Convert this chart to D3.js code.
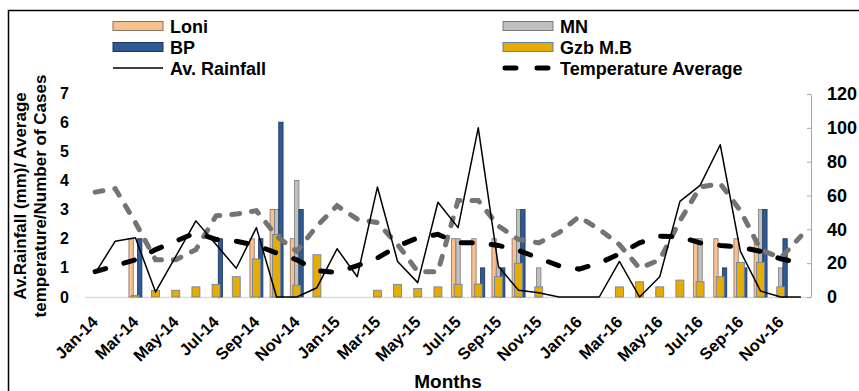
<!DOCTYPE html>
<html>
<head>
<meta charset="utf-8">
<script src="https://cdn.jsdelivr.net/npm/d3@7"></script>
<style>
  body { margin: 0; background: #fff; }
  svg { font-family: "Liberation Sans", Arial, sans-serif; font-weight: bold; }
</style>
</head>
<body>
<svg id="chart" width="859" height="391"></svg>
<script>
// months Jan-14 .. Dec-16
const months = ['Jan-14','Feb-14','Mar-14','Apr-14','May-14','Jun-14','Jul-14','Aug-14','Sep-14','Oct-14','Nov-14','Dec-14',
  'Jan-15','Feb-15','Mar-15','Apr-15','May-15','Jun-15','Jul-15','Aug-15','Sep-15','Oct-15','Nov-15','Dec-15',
  'Jan-16','Feb-16','Mar-16','Apr-16','May-16','Jun-16','Jul-16','Aug-16','Sep-16','Oct-16','Nov-16','Dec-16'];
const tickLabels = months.filter((d, i) => i % 2 === 0);

// cases (left axis)
const loni = [0,0,2,0,0,0,0,0,2,3,2,0, 0,0,0,0,0,0,2,2,2,2,0,0, 0,0,0,0,0,0,2,2,2,2,0,0];
const mn   = [0,0,0,0,0,0,0,0,0,3,4,0, 0,0,0,0,0,0,2,0,1,3,1,0, 0,0,0,0,0,0,2,0,0,3,1,0];
const bp   = [0,0,2,0,0,0,2,0,2,6,3,0, 0,0,0,0,0,0,0,1,1,3,0,0, 0,0,0,0,0,0,0,1,1,3,2,0];
// secondary axis series
const gzb  = [0,0,1,4,4,6,7.5,12,22.5,37,7,25, 0,0,4,7.5,5,6,7.5,7.7,12,20,6,0, 0,0,6,9,6,10,9,12,20.5,20.5,6,0];
const rainfall = [14,33,35,3,24,45,31,17,41,0,0,5.5, 28.5,12,65,21,8.5,56,41,100,18,4,2.5,0, 0,0,21,0,12,56.5,66,90,27,3.5,0,0];
const temperature = [15,18.5,22,28,33,38,34,33,30.5,26,22,15.5, 14.6,18.5,23,30,35,37,32,32,30.5,27.5,23,18.5, 16.5,20,25.5,32,36,35.5,32,30.5,29.5,27,22.5,20];
const grayLine = [62,64,44,22,22,28,48,49,51,36,27,42, 54,46,44,31,15,15,57,57,42,34,32,38, 47.5,40,31,17,22,45,65,67,51,28,23,36];

const leftTicks = [0,1,2,3,4,5,6,7];
const rightTicks = [0,20,40,60,80,100,120];

const svg = d3.select('#chart');
const margin = { left: 85, right: 811, top: 93, bottom: 297 };

// outer frame
svg.append('rect')
  .attr('x', 8.5).attr('y', 10.5).attr('width', 900).attr('height', 420)
  .attr('fill', 'none').attr('stroke', '#000').attr('stroke-width', 1.5);

const x = d3.scaleBand().domain(months).range([margin.left, margin.right]);
const xSub = d3.scaleBand().domain(['Loni','MN','BP']).range([0, x.bandwidth()]).paddingOuter(0.83);
const xSec = d3.scaleBand().domain(['Gzb']).range([0, x.bandwidth()]).paddingOuter(0.76);
const yL = d3.scaleLinear().domain([0, 7]).range([margin.bottom, margin.top]);
const yR = d3.scaleLinear().domain([0, 120]).range([margin.bottom, margin.top + 1]);

// baseline
svg.append('line')
  .attr('x1', margin.left).attr('x2', margin.right)
  .attr('y1', margin.bottom + 0.5).attr('y2', margin.bottom + 0.5)
  .attr('stroke', '#d9d9d9').attr('stroke-width', 1.5);

// left axis (labels only)
const gL = svg.append('g')
  .attr('transform', `translate(${margin.left},0)`)
  .call(d3.axisLeft(yL).tickValues(leftTicks).tickFormat(d3.format('d')).tickSize(0).tickPadding(16));
gL.select('.domain').remove();
gL.selectAll('text').style('font-size', '16px').attr('fill', '#000').style('font-family', 'inherit');

// right axis
const gR = svg.append('g')
  .attr('transform', `translate(${margin.right},0)`)
  .call(d3.axisRight(yR).tickValues(rightTicks).tickSizeInner(-4).tickSizeOuter(0).tickPadding(16));
gR.select('.domain').attr('stroke', '#a6a6a6');
gR.selectAll('line').attr('stroke', '#a6a6a6');
gR.selectAll('text').style('font-size', '18px').attr('fill', '#000').style('font-family', 'inherit');

// x axis labels
const gX = svg.append('g')
  .attr('transform', `translate(0,${margin.bottom})`)
  .call(d3.axisBottom(x).tickValues(tickLabels).tickSize(0));
gX.select('.domain').remove();
gX.selectAll('text')
  .attr('y', 0).attr('dy', 0)
  .attr('transform', 'translate(4,26) rotate(-45)')
  .style('text-anchor', 'end')
  .style('font-size', '16.5px').style('font-family', 'inherit')
  .attr('fill', '#000');

// primary bars
const barSeries = [
  { name: 'Loni', values: loni, fill: '#f9c090', stroke: '#8a7060' },
  { name: 'MN', values: mn, fill: '#c0c0c0', stroke: '#7a7a7a' },
  { name: 'BP', values: bp, fill: '#2f5a95', stroke: '#1c355a' }
];
barSeries.forEach(s => {
  svg.append('g').selectAll('rect')
    .data(s.values.map((v, i) => ({ m: months[i], v })).filter(d => d.v > 0))
    .enter().append('rect')
    .attr('x', d => x(d.m) + xSub(s.name))
    .attr('y', d => yL(d.v))
    .attr('width', xSub.bandwidth())
    .attr('height', d => yL(0) - yL(d.v))
    .attr('fill', s.fill)
    .attr('stroke', s.stroke)
    .attr('stroke-width', 0.8);
});

// secondary bars
svg.append('g').selectAll('rect')
  .data(gzb.map((v, i) => ({ m: months[i], v })).filter(d => d.v > 0))
  .enter().append('rect')
  .attr('x', d => x(d.m) + xSec('Gzb'))
  .attr('y', d => yR(d.v))
  .attr('width', xSec.bandwidth())
  .attr('height', d => yR(0) - yR(d.v))
  .attr('fill', '#e6ac00')
  .attr('stroke', '#5f7fb5')
  .attr('stroke-width', 0.8);

const cx = i => x(months[i]) + x.bandwidth() / 2;
const line = d3.line().x((d, i) => cx(i)).y(d => yR(d));

svg.append('path')
  .attr('d', line(grayLine))
  .attr('fill', 'none').attr('stroke', '#747474')
  .attr('stroke-width', 5).attr('stroke-linecap', 'round')
  .attr('stroke-dasharray', '8,12');

svg.append('path')
  .attr('d', line(rainfall))
  .attr('fill', 'none').attr('stroke', '#000')
  .attr('stroke-width', 1.5).attr('stroke-linejoin', 'round');

svg.append('path')
  .attr('d', line(temperature))
  .attr('fill', 'none').attr('stroke', '#000')
  .attr('stroke-width', 5).attr('stroke-linecap', 'round')
  .attr('stroke-dasharray', '11,19');

// legend
const legendItems = [
  { name: 'Loni', type: 'rect', fill: '#f9c090', stroke: '#8a7060', x: 113, y: 26 },
  { name: 'MN', type: 'rect', fill: '#c0c0c0', stroke: '#7a7a7a', x: 503, y: 26 },
  { name: 'BP', type: 'rect', fill: '#2f5a95', stroke: '#1c355a', x: 113, y: 47 },
  { name: 'Gzb M.B', type: 'rect', fill: '#e6ac00', stroke: '#5f7fb5', x: 503, y: 47 },
  { name: 'Av. Rainfall', type: 'line', x: 113, y: 68 },
  { name: 'Temperature Average', type: 'dash', x: 503, y: 68 }
];
const legend = svg.append('g').selectAll('g')
  .data(legendItems).enter().append('g')
  .attr('transform', d => `translate(${d.x},${d.y})`);
legend.filter(d => d.type === 'rect').append('rect')
  .attr('x', 0).attr('y', -4.5).attr('width', 50).attr('height', 9)
  .attr('fill', d => d.fill).attr('stroke', d => d.stroke).attr('stroke-width', 1);
legend.filter(d => d.type === 'line').append('line')
  .attr('x1', 0).attr('x2', 50).attr('y1', 0).attr('y2', 0)
  .attr('stroke', '#000').attr('stroke-width', 1.5);
legend.filter(d => d.type === 'dash').append('line')
  .attr('x1', 2).attr('x2', 48).attr('y1', 0).attr('y2', 0)
  .attr('stroke', '#000').attr('stroke-width', 5).attr('stroke-linecap', 'round')
  .attr('stroke-dasharray', '11,21');
legend.append('text')
  .attr('x', 57).attr('y', 6.5)
  .style('font-size', '18px')
  .text(d => d.name);

// axis titles
svg.append('text')
  .attr('x', 448).attr('y', 388)
  .attr('text-anchor', 'middle')
  .style('font-size', '19px')
  .text('Months');

const yTitle = svg.append('g').attr('transform', 'translate(0,196)');
yTitle.append('text')
  .attr('transform', 'translate(26,0) rotate(-90)')
  .attr('text-anchor', 'middle').style('font-size', '17px')
  .text('Av.Rainfall (mm)/ Average');
yTitle.append('text')
  .attr('transform', 'translate(46,0) rotate(-90)')
  .attr('text-anchor', 'middle').style('font-size', '17px')
  .text('temperature/Number of Cases');
</script>
</body>
</html>
